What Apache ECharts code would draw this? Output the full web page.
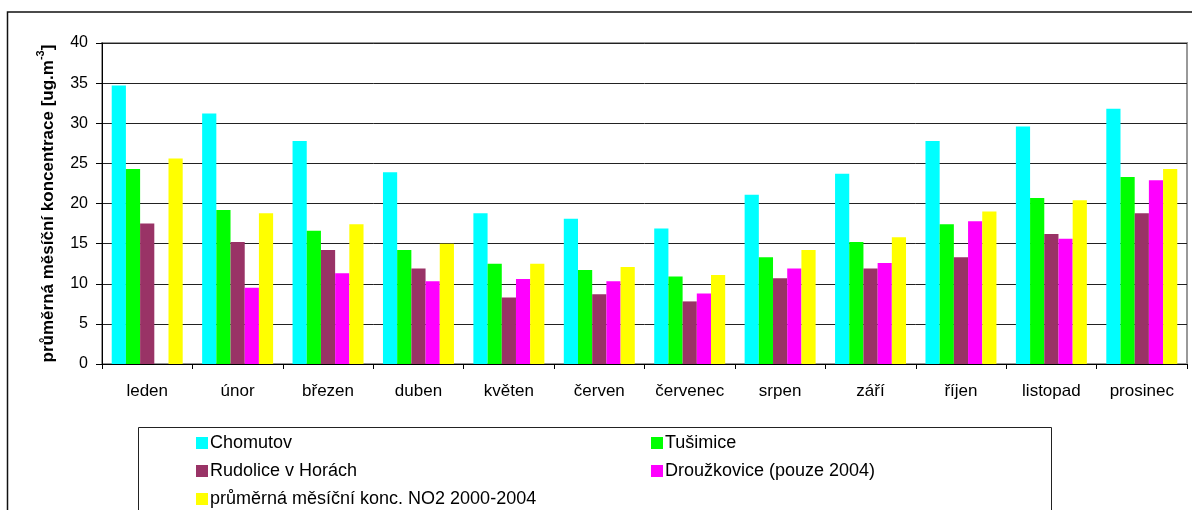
<!DOCTYPE html>
<html>
<head>
<meta charset="utf-8">
<title>Průměrné měsíční koncentrace NO2</title>
<script src="https://cdn.jsdelivr.net/npm/echarts@6/dist/echarts.min.js"></script>
<style>
  html, body { margin: 0; padding: 0; background: #fff; }
  #chart { width: 1192px; height: 510px; }
</style>
</head>
<body>
<div id="chart"></div>
<script>
// Months on the category axis
var months = ['leden', 'únor', 'březen', 'duben', 'květen', 'červen',
              'červenec', 'srpen', 'září', 'říjen', 'listopad', 'prosinec'];

// Monthly mean NO2 concentrations [ug.m-3] per station
var chomutov    = [34.7, 31.2, 27.8, 23.9, 18.8, 18.1, 16.9, 21.1, 23.7, 27.8, 29.6, 31.8];
var tusimice    = [24.3, 19.2, 16.6, 14.2, 12.5, 11.7, 10.9, 13.3, 15.2, 17.4, 20.7, 23.3];
var rudolice    = [17.5, 15.2, 14.2, 11.9,  8.3,  8.7,  7.8, 10.7, 11.9, 13.3, 16.2, 18.8];
var drouzkovice = [null,  9.5, 11.3, 10.3, 10.6, 10.3,  8.8, 11.9, 12.6, 17.8, 15.6, 22.9];
var prumer      = [25.6, 18.8, 17.4, 15.0, 12.5, 12.1, 11.1, 14.2, 15.8, 19.0, 20.4, 24.3];

var seriesNames = ['Chomutov', 'Tušimice', 'Rudolice v Horách',
                   'Droužkovice (pouze 2004)', 'průměrná měsíční konc. NO2 2000-2004'];
var seriesColors = ['#00FFFF', '#00FF00', '#993366', '#FF00FF', '#FFFF00'];
var seriesData = [chomutov, tusimice, rudolice, drouzkovice, prumer];

// Y axis ticks
var yMin = 0, yMax = 40, yStep = 5;

var FONT = '"Liberation Sans", Arial, sans-serif';

var chart = echarts.init(document.getElementById('chart'), null, { renderer: 'canvas' });

function legendAt(name, left, top) {
  return {
    data: [name],
    left: left,
    top: top,
    padding: 0,
    itemWidth: 12,
    itemHeight: 12,
    icon: 'rect',
    selectedMode: false,
    textStyle: { fontFamily: FONT, fontSize: 18, color: '#000', lineHeight: 18, padding: [0, 0, 0, -3] }
  };
}

var option = {
  animation: false,
  backgroundColor: '#fff',
  color: seriesColors,
  graphic: [
    // outer chart frame
    { type: 'rect', silent: true, z: -1,
      shape: { x: 7.5, y: 12, width: 1200, height: 520 },
      style: { fill: 'none', stroke: '#111', lineWidth: 1.5 } },
    // legend frame
    { type: 'rect', silent: true, z: -1,
      shape: { x: 138.5, y: 427.5, width: 913, height: 100 },
      style: { fill: 'none', stroke: '#222', lineWidth: 1 } }
  ],
  legend: [
    legendAt(seriesNames[0], 196, 434),
    legendAt(seriesNames[1], 651, 434),
    legendAt(seriesNames[2], 196, 462),
    legendAt(seriesNames[3], 651, 462),
    legendAt(seriesNames[4], 196, 490)
  ],
  grid: {
    left: 102, right: 5, top: 43, bottom: 146,
    show: true, borderColor: '#999', borderWidth: 2, backgroundColor: 'transparent'
  },
  xAxis: {
    type: 'category',
    data: months,
    axisLine: { lineStyle: { color: '#000', width: 1 } },
    axisTick: { show: true, length: 5, inside: false, lineStyle: { color: '#000' } },
    axisLabel: { fontFamily: FONT, fontSize: 17, color: '#000', margin: 19, interval: 0 },
    splitLine: { show: false }
  },
  yAxis: {
    type: 'value',
    min: yMin, max: yMax, interval: yStep,
    axisLine: { show: true, lineStyle: { color: '#000', width: 1 } },
    axisTick: { show: true, length: 6, inside: false, lineStyle: { color: '#000' } },
    axisLabel: { fontFamily: FONT, fontSize: 16, color: '#000', margin: 14 },
    splitLine: { show: true, lineStyle: { color: '#222', width: 1 } },
    name: '{n|průměrná měsíční koncentrace [ug.m}{s|-3}{n|]}',
    nameLocation: 'middle',
    nameGap: 45,
    nameRotate: 90,
    nameTextStyle: {
      rich: {
        n: { fontFamily: FONT, fontSize: 17, fontWeight: 'bold', color: '#000', lineHeight: 22, verticalAlign: 'bottom' },
        s: { fontFamily: FONT, fontSize: 11, fontWeight: 'bold', color: '#000', lineHeight: 22, verticalAlign: 'top' }
      }
    }
  },
  series: seriesData.map(function (d, i) {
    return {
      name: seriesNames[i],
      type: 'bar',
      data: d,
      barGap: '0%',
      barCategoryGap: '21.5%',
      itemStyle: { color: seriesColors[i] }
    };
  })
};

chart.setOption(option);
</script>
</body>
</html>
